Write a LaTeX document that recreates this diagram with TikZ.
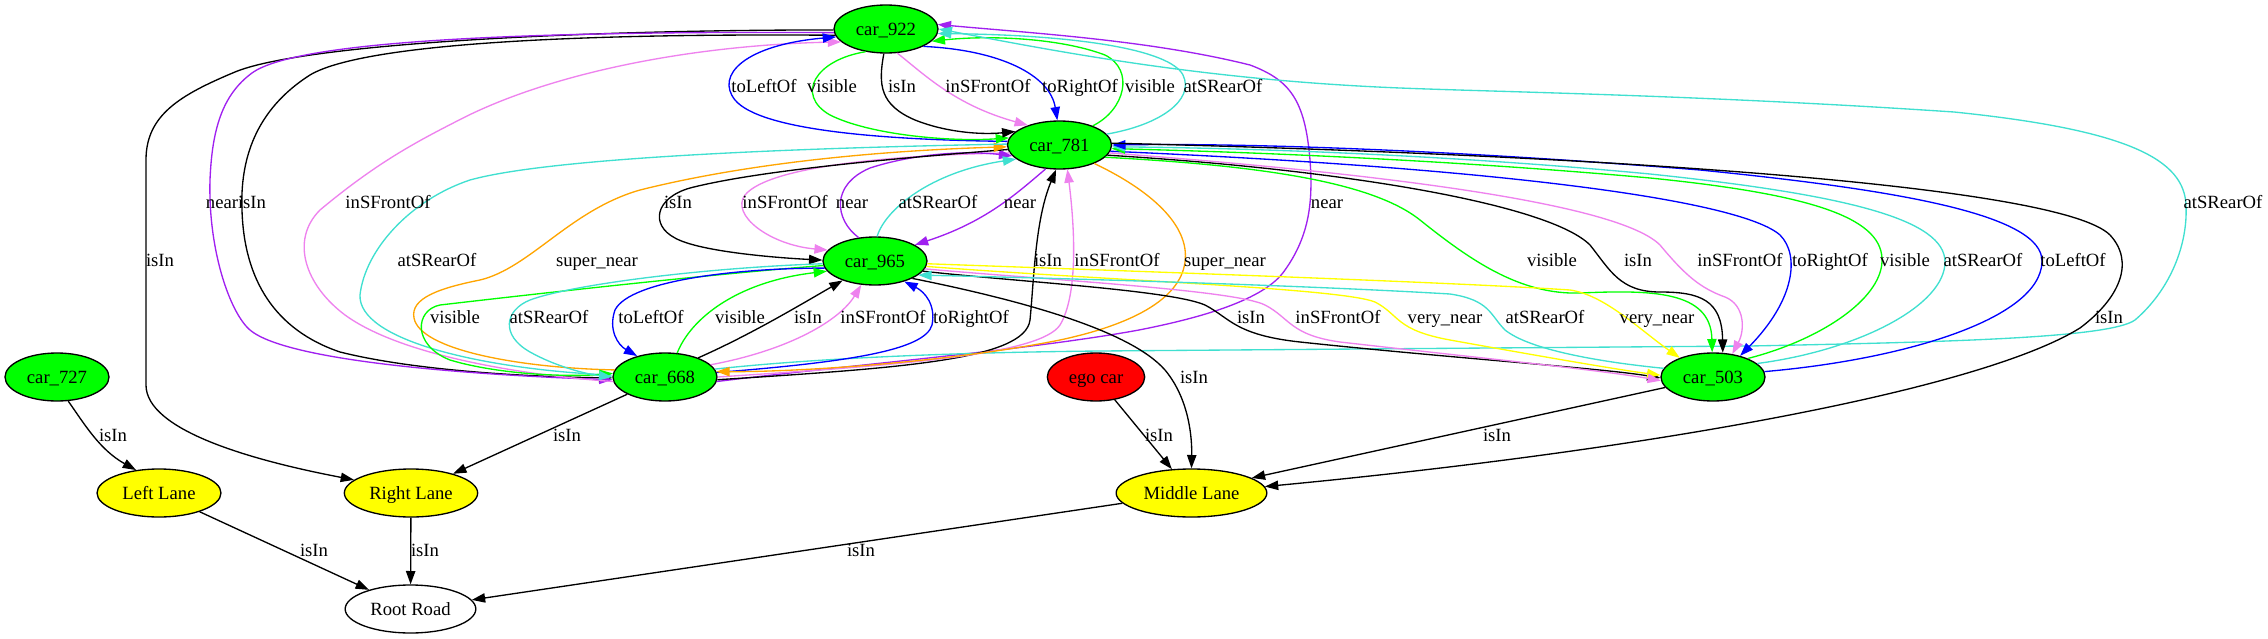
\documentclass[tikz,border=0pt]{standalone}
\usepackage{fontspec}
\setmainfont{Liberation Serif}
\usetikzlibrary{shapes.geometric,arrows.meta}
\definecolor{gvgreen}{HTML}{00FF00}
\definecolor{gvblue}{HTML}{0000FF}
\definecolor{gvviolet}{HTML}{EE82EE}
\definecolor{gvpurple}{HTML}{A020F0}
\definecolor{gvturq}{HTML}{40E0D0}
\definecolor{gvorange}{HTML}{FFA500}
\definecolor{gvyellow}{HTML}{FFFF00}
\definecolor{gvred}{HTML}{FF0000}
\tikzset{
  gnode/.style={ellipse, draw=black, line width=1pt, inner sep=0pt, minimum height=36pt,
    text height=9.3pt, text depth=0pt, font=\fontsize{14pt}{16pt}\selectfont},
  carnode/.style={gnode, fill=gvgreen, minimum width=78pt},
  lanenode/.style={gnode, fill=gvyellow},
  rel/.style={line width=1pt, -{Triangle[length=10pt,width=7pt]}},
  lbl/.style={inner sep=0pt, text height=9.3pt, text depth=0pt, font=\fontsize{14pt}{16pt}\selectfont},
}
\begin{document}
\begin{tikzpicture}[x=0.75pt,y=-0.75pt]
\fill[white] (0,0) rectangle (2268,639);
\useasboundingbox (0,0) rectangle (2268,639);
% nodes
\node[carnode] (c922) at (886,29) {car\_922};
\node[carnode] (c781) at (1059.5,145) {car\_781};
\node[carnode] (c965) at (875,261) {car\_965};
\node[carnode] (c668) at (665,377) {car\_668};
\node[carnode] (c503) at (1713,377) {car\_503};
\node[carnode] (c727) at (57,377) {car\_727};
\node[gnode, fill=gvred, minimum width=73pt] (ego) at (1096,377) {ego car};
\node[lanenode, minimum width=93pt] (ll) at (159,493) {Left Lane};
\node[lanenode, minimum width=100pt] (rl) at (411,493) {Right Lane};
\node[lanenode, minimum width=113pt] (ml) at (1191.5,493) {Middle Lane};
\node[gnode, fill=white, minimum width=98pt] (rr) at (410.5,609) {Root Road};

% ---- edges ----
% car_922 left loops
\draw[rel] (c922.181) .. controls (560,30) and (300,45) .. (235,72) .. controls (180,95) and (146,115) .. (146,160) -- (146,385) .. controls (146,430) and (250,460) .. (rl.167);
\draw[rel] (c922.187) .. controls (560,33) and (360,45) .. (310,75) .. controls (255,110) and (240,160) .. (242,210) .. controls (244,280) and (275,330) .. (340,352) .. controls (420,372) and (540,377) .. (c668.181);
\draw[rel, gvpurple] (c922.184) .. controls (560,31) and (300,38) .. (252,73) .. controls (222,95) and (212,130) .. (210,180) .. controls (208,250) and (230,313) .. (250,330) .. controls (290,364) and (500,376) .. (c668.183);
\draw[rel, gvviolet] (c668.185) .. controls (520,375) and (400,355) .. (345,315) .. controls (305,285) and (290,240) .. (320,210) .. controls (380,160) and (420,140) .. (465,117) .. controls (560,70) and (700,45) .. (c922.196);
% car_922 <-> car_781
\draw[rel, gvblue] (c781.176) .. controls (880,140) and (760,130) .. (735,100) .. controls (715,75) and (745,45) .. (c922.189);
\draw[rel, gvgreen] (c922.228) .. controls (815,60) and (795,95) .. (830,115) .. controls (870,135) and (950,142) .. (c781.172);
\draw[rel] (c922.265) .. controls (878,85) and (880,105) .. (915,120) .. controls (945,132) and (980,135) .. (c781.163);
\draw[rel, gvviolet] (c922.295) .. controls (925,75) and (955,105) .. (c781.148);
\draw[rel, gvblue] (c922.335) .. controls (1000,50) and (1050,75) .. (c781.95);
\draw[rel, gvgreen] (c781.30) .. controls (1125,110) and (1135,70) .. (1105,55) .. controls (1060,38) and (990,35) .. (c922.345);
\draw[rel, gvturq] (c781.13) .. controls (1160,125) and (1195,100) .. (1183,75) .. controls (1170,50) and (1080,35) .. (c922.355);
% car_668 -> car_922 (right route)
\draw[rel, gvpurple] (c668.-5) .. controls (850,365) and (1030,350) .. (1139,330) .. controls (1200,318) and (1265,300) .. (1285,270) .. controls (1310,235) and (1313,200) .. (1310,160) .. controls (1305,100) and (1290,80) .. (1250,65) .. controls (1150,40) and (1030,33) .. (c922.5);
\draw[rel, gvturq] (c668.9) .. controls (780,362) and (900,353) .. (1100,351) -- (1750,346) .. controls (1950,342) and (2110,338) .. (2135,320) .. controls (2170,290) and (2188,245) .. (2186,205) .. controls (2184,160) and (2130,130) .. (1954,112) .. controls (1700,95) and (1500,92) .. (1400,88) .. controls (1200,80) and (1050,50) .. (c922.0);
% car_781 <-> car_965
\draw[rel, gvviolet] (c781.189) .. controls (900,155) and (770,165) .. (745,195) .. controls (730,215) and (770,245) .. (c965.167);
\draw[rel, gvpurple] (c965.125) .. controls (835,220) and (830,185) .. (870,168) .. controls (910,155) and (960,150) .. (c781.193);
\draw[rel, gvturq] (c965.85) .. controls (885,210) and (930,172) .. (c781.198);
\draw[rel, gvpurple] (c781.240) .. controls (1015,195) and (985,222) .. (c965.22);
\draw[rel] (c781.185) .. controls (900,158) and (760,170) .. (690,188) .. controls (655,198) and (650,225) .. (675,238) .. controls (700,252) and (780,258) .. (c965.179);
% car_668 <-> car_781 (left)
\draw[rel, gvorange] (c668.172) .. controls (520,368) and (420,350) .. (414,318) .. controls (410,298) and (440,288) .. (480,280) .. controls (530,268) and (570,210) .. (640,190) .. controls (760,160) and (900,150) .. (c781.182);
\draw[rel, gvturq] (c781.179) .. controls (850,147) and (560,155) .. (470,180) .. controls (410,200) and (365,250) .. (360,295) .. controls (358,340) and (480,368) .. (c668.178);
% car_965 -> car_668 (left)
\draw[rel, gvgreen] (c965.185) .. controls (700,275) and (500,298) .. (440,305) .. controls (415,310) and (412,345) .. (450,360) .. controls (500,375) and (570,377) .. (c668.176);
\draw[rel, gvturq] (c965.183) .. controls (700,268) and (570,285) .. (530,300) .. controls (505,310) and (500,335) .. (530,352) .. controls (555,366) and (585,374) .. (c668.180);
% car_965 <-> car_668
\draw[rel, gvblue] (c965.188) .. controls (740,268) and (630,280) .. (615,310) .. controls (608,330) and (618,345) .. (c668.143);
\draw[rel, gvgreen] (c668.63) .. controls (690,320) and (735,282) .. (c965.192);
\draw[rel] (c668.30) .. controls (750,335) and (800,305) .. (c965.211);
\draw[rel, gvviolet] (c668.15) .. controls (790,350) and (840,320) .. (c965.240);
\draw[rel, gvblue] (c668.5) .. controls (850,362) and (925,350) .. (932,325) .. controls (936,305) and (925,292) .. (c965.325);
% car_668 <-> car_781 (right)
\draw[rel] (c668.-3) .. controls (900,368) and (1025,360) .. (1030,320) .. controls (1034,280) and (1035,220) .. (c781.262);
\draw[rel, gvviolet] (c668.0) .. controls (900,365) and (1040,355) .. (1060,325) .. controls (1078,295) and (1075,230) .. (c781.288);
\draw[rel, gvorange] (c781.-28) .. controls (1150,190) and (1190,225) .. (1185,262) .. controls (1180,300) and (1130,325) .. (1060,340) .. controls (950,362) and (800,372) .. (c668.6);
% car_781 <-> car_503
\draw[rel, gvgreen] (c781.-15) .. controls (1250,165) and (1370,180) .. (1420,220) .. controls (1470,260) and (1520,295) .. (1580,293) .. controls (1650,290) and (1711,290) .. (c503.92);
\draw[rel] (c781.-12) .. controls (1350,170) and (1550,205) .. (1590,245) .. controls (1610,270) and (1620,292) .. (1660,292) .. controls (1700,292) and (1722,300) .. (c503.68);
\draw[rel, gvviolet] (c781.-9) .. controls (1400,175) and (1620,205) .. (1660,245) .. controls (1685,275) and (1700,288) .. (1725,297) .. controls (1745,305) and (1745,330) .. (c503.50);
\draw[rel, gvblue] (c781.-7) .. controls (1500,168) and (1740,200) .. (1780,235) .. controls (1800,255) and (1795,300) .. (c503.38);
\draw[rel, gvgreen] (c503.28) .. controls (1820,340) and (1880,300) .. (1882,262) .. controls (1884,220) and (1820,195) .. (1650,178) .. controls (1450,160) and (1250,152) .. (c781.-4);
\draw[rel, gvturq] (c503.17) .. controls (1860,350) and (1945,305) .. (1945,262) .. controls (1945,220) and (1850,195) .. (1650,174) .. controls (1450,155) and (1250,148) .. (c781.-2);
\draw[rel, gvblue] (c503.6) .. controls (1900,360) and (2040,320) .. (2042,262) .. controls (2044,215) and (1900,190) .. (1700,170) .. controls (1450,150) and (1250,143) .. (c781.0);
\draw[rel] (c781.2) .. controls (1600,155) and (2060,185) .. (2110,235) .. controls (2135,262) and (2120,298) .. (2080,328) .. controls (1980,390) and (1650,450) .. (ml.5);
% car_965 <-> car_503
\draw[rel] (c965.-12) .. controls (1020,282) and (1170,290) .. (1205,305) .. controls (1230,318) and (1235,335) .. (1300,342) .. controls (1450,358) and (1600,368) .. (c503.181);
\draw[rel] (c965.-25) .. controls (1020,300) and (1130,330) .. (1165,370) .. controls (1190,400) and (1192,440) .. (ml.90);
\draw[rel, gvyellow] (c965.-6) .. controls (1100,280) and (1340,288) .. (1375,302) .. controls (1400,315) and (1395,330) .. (1450,340) .. controls (1550,358) and (1620,370) .. (c503.178);
\draw[rel, gvviolet] (c965.-9) .. controls (1050,280) and (1235,290) .. (1265,305) .. controls (1290,318) and (1290,335) .. (1340,342) .. controls (1480,358) and (1600,370) .. (c503.184);
\draw[rel, gvturq] (c503.170) .. controls (1600,362) and (1530,350) .. (1505,330) .. controls (1490,315) and (1490,300) .. (1450,294) .. controls (1300,285) and (1050,278) .. (c965.-18);
\draw[rel, gvyellow] (c965.-3) .. controls (1100,270) and (1450,282) .. (1570,290) .. controls (1605,295) and (1640,330) .. (c503.150);
% lanes and road
\draw[rel] (c668) -- (rl);
\draw[rel] (c727.-65) .. controls (85,425) and (100,450) .. (ll.135);
\draw[rel] (ll) -- (rr);
\draw[rel] (rl) -- (rr);
\draw[rel] (ml) -- (rr);
\draw[rel] (ego) -- (ml);
\draw[rel] (c503) -- (ml.14);

% ---- labels ----
\node[lbl] (l5) at (764,86) {toLeftOf};
\node[lbl] (l6) at (832,86) {visible};
\node[lbl] (l7) at (902,86) {isIn};
\node[lbl] (l8) at (988,86) {inSFrontOf};
\node[lbl] (l9) at (1080,86) {toRightOf};
\node[lbl] (l10) at (1150,86) {visible};
\node[lbl] (l11) at (1223,86) {atSRearOf};
\node[lbl] (l3) at (222,202) {near};
\node[lbl] (l2) at (252,202) {isIn};
\node[lbl] (l4) at (388,202) {inSFrontOf};
\node[lbl] (l18) at (678,202) {isIn};
\node[lbl] (l14) at (785,202) {inSFrontOf};
\node[lbl] (l15) at (852,202) {near};
\node[lbl] (l16) at (938,202) {atSRearOf};
\node[lbl] (l17) at (1020,202) {near};
\node[lbl] (l12) at (1327,202) {near};
\node[lbl] (l13) at (2223,202) {atSRearOf};
\node[lbl] (l1) at (160,260) {isIn};
\node[lbl] (l20) at (437,260) {atSRearOf};
\node[lbl] (l19) at (597,260) {super\_near};
\node[lbl] (l28) at (1048,260) {isIn};
\node[lbl] (l29) at (1117,260) {inSFrontOf};
\node[lbl] (l30) at (1225,260) {super\_near};
\node[lbl] (l32) at (1552,260) {visible};
\node[lbl] (l33) at (1638,260) {isIn};
\node[lbl] (l34) at (1740,260) {inSFrontOf};
\node[lbl] (l35) at (1830,260) {toRightOf};
\node[lbl] (l36) at (1905,260) {visible};
\node[lbl] (l37) at (1983,260) {atSRearOf};
\node[lbl] (l38) at (2073,260) {toLeftOf};
\node[lbl] (l21) at (455,317) {visible};
\node[lbl] (l22) at (549,317) {atSRearOf};
\node[lbl] (l23) at (651,317) {toLeftOf};
\node[lbl] (l24) at (740,317) {visible};
\node[lbl] (l25) at (808,317) {isIn};
\node[lbl] (l26) at (883,317) {inSFrontOf};
\node[lbl] (l27) at (971,317) {toRightOf};
\node[lbl] (l40) at (1251,317) {isIn};
\node[lbl] (l42) at (1338,317) {inSFrontOf};
\node[lbl] (l43) at (1445,317) {very\_near};
\node[lbl] (l44) at (1545,317) {atSRearOf};
\node[lbl] (l45) at (1657,317) {very\_near};
\node[lbl] (l39) at (2109,317) {isIn};
\node[lbl] (l41) at (1194,377) {isIn};
\node[lbl] (l47) at (113,435) {isIn};
\node[lbl] (l46) at (567,435) {isIn};
\node[lbl] (l51) at (1159,435) {isIn};
\node[lbl] (l52) at (1497,435) {isIn};
\node[lbl] (l48) at (314,550) {isIn};
\node[lbl] (l49) at (425,550) {isIn};
\node[lbl] (l50) at (861,550) {isIn};
\end{tikzpicture}
\end{document}
